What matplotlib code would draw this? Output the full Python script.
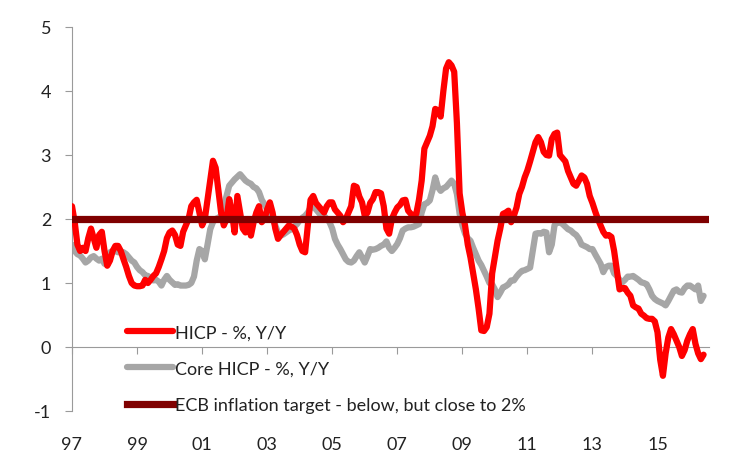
import matplotlib
matplotlib.use("Agg")
import matplotlib.pyplot as plt
import numpy as np

# ---------------- data (monthly, Jan 1997 - Jun 2016) ----------------
hicp_1997 = [2.2, 1.95, 1.6, 1.5, 1.55, 1.5, 1.7, 1.85, 1.7, 1.55, 1.75, 1.8]
hicp_1998 = [1.5, 1.27, 1.35, 1.5, 1.58, 1.58, 1.5, 1.37, 1.25, 1.11, 1.0, 0.96]
hicp_1999 = [0.95, 0.95, 0.96, 1.05, 1.0, 1.05, 1.11, 1.15, 1.25, 1.37, 1.5, 1.7]
hicp_2000 = [1.79, 1.82, 1.75, 1.6, 1.58, 1.8, 1.9, 2.0, 2.2, 2.26, 2.3, 2.1]
hicp_2001 = [1.9, 2.0, 2.3, 2.6, 2.91, 2.8, 2.45, 2.1, 1.9, 2.0, 2.31, 2.1]
hicp_2002 = [1.79, 2.36, 2.1, 1.85, 1.79, 2.0, 1.74, 1.95, 2.1, 2.2, 1.95, 2.0]
hicp_2003 = [2.15, 2.26, 2.1, 1.85, 1.69, 1.75, 1.8, 1.85, 1.9, 1.88, 1.85, 1.75]
hicp_2004 = [1.6, 1.5, 1.48, 1.9, 2.3, 2.36, 2.25, 2.2, 2.15, 2.1, 2.2, 2.26]
hicp_2005 = [2.26, 2.15, 2.1, 2.05, 1.95, 2.0, 2.1, 2.2, 2.52, 2.5, 2.35, 2.26]
hicp_2006 = [2.05, 2.1, 2.25, 2.31, 2.42, 2.42, 2.4, 2.2, 1.85, 1.77, 2.0, 2.1]
hicp_2007 = [2.18, 2.22, 2.29, 2.3, 2.13, 2.08, 2.05, 2.08, 2.3, 2.6, 3.1, 3.2]
hicp_2008 = [3.3, 3.45, 3.72, 3.7, 3.6, 4.0, 4.35, 4.45, 4.4, 4.3, 3.5, 2.4]
hicp_2009 = [2.1, 1.9, 1.6, 1.4, 1.15, 0.9, 0.6, 0.26, 0.25, 0.31, 0.52, 1.15]
hicp_2010 = [1.4, 1.66, 1.85, 2.08, 2.1, 2.13, 1.95, 2.05, 2.18, 2.39, 2.5, 2.65]
hicp_2011 = [2.76, 2.9, 3.05, 3.2, 3.28, 3.2, 3.05, 3.0, 2.99, 3.25, 3.33, 3.35]
hicp_2012 = [3.0, 2.95, 2.9, 2.75, 2.65, 2.55, 2.52, 2.6, 2.68, 2.65, 2.55, 2.36]
hicp_2013 = [2.25, 2.12, 2.0, 1.9, 1.8, 1.74, 1.75, 1.72, 1.5, 1.2, 0.9, 0.92]
hicp_2014 = [0.92, 0.85, 0.8, 0.65, 0.62, 0.6, 0.52, 0.49, 0.45, 0.44, 0.44, 0.4]
hicp_2015 = [0.23, -0.2, -0.45, -0.1, 0.15, 0.28, 0.2, 0.1, 0.0, -0.14, -0.05, 0.1]
hicp_2016 = [0.2, 0.28, 0.05, -0.1, -0.19, -0.12]

core_1997 = [1.6, 1.5, 1.45, 1.43, 1.38, 1.32, 1.35, 1.4, 1.42, 1.38, 1.35, 1.38]
core_1998 = [1.3, 1.35, 1.48, 1.5, 1.5, 1.48, 1.48, 1.48, 1.45, 1.4, 1.35, 1.32]
core_1999 = [1.25, 1.2, 1.17, 1.12, 1.11, 1.08, 1.04, 1.05, 1.02, 0.96, 1.05, 1.11]
core_2000 = [1.05, 1.01, 0.97, 0.98, 0.96, 0.96, 0.96, 0.97, 1.0, 1.1, 1.35, 1.53]
core_2001 = [1.5, 1.37, 1.6, 1.84, 1.95, 2.0, 2.02, 2.05, 2.2, 2.36, 2.52, 2.57]
core_2002 = [2.62, 2.66, 2.7, 2.65, 2.6, 2.57, 2.55, 2.5, 2.48, 2.42, 2.3, 2.23]
core_2003 = [2.15, 2.05, 2.0, 1.9, 1.79, 1.74, 1.76, 1.79, 1.82, 1.84, 1.88, 1.92]
core_2004 = [1.98, 2.02, 2.05, 2.1, 2.18, 2.2, 2.15, 2.1, 2.05, 2.05, 2.0, 1.95]
core_2005 = [1.85, 1.69, 1.6, 1.53, 1.45, 1.37, 1.33, 1.32, 1.35, 1.42, 1.48, 1.4]
core_2006 = [1.32, 1.42, 1.53, 1.52, 1.53, 1.55, 1.58, 1.6, 1.65, 1.55, 1.5, 1.55]
core_2007 = [1.61, 1.7, 1.82, 1.85, 1.87, 1.87, 1.88, 1.9, 1.92, 2.1, 2.23, 2.25]
core_2008 = [2.29, 2.45, 2.65, 2.5, 2.44, 2.48, 2.5, 2.55, 2.6, 2.55, 2.39, 2.08]
core_2009 = [1.9, 1.77, 1.7, 1.66, 1.55, 1.45, 1.35, 1.28, 1.19, 1.1, 1.0, 0.98]
core_2010 = [0.9, 0.78, 0.85, 0.93, 0.95, 0.98, 1.04, 1.04, 1.1, 1.15, 1.19, 1.2]
core_2011 = [1.22, 1.24, 1.5, 1.77, 1.78, 1.77, 1.8, 1.79, 1.48, 1.6, 1.9, 1.95]
core_2012 = [1.95, 1.92, 1.88, 1.84, 1.82, 1.78, 1.75, 1.69, 1.6, 1.58, 1.56, 1.53]
core_2013 = [1.53, 1.45, 1.375, 1.3, 1.17, 1.25, 1.27, 1.27, 1.15, 1.11, 1.05, 1.01]
core_2014 = [1.05, 1.1, 1.1, 1.11, 1.08, 1.05, 1.01, 1.0, 0.98, 0.9, 0.8, 0.75]
core_2015 = [0.72, 0.7, 0.68, 0.65, 0.72, 0.8, 0.88, 0.9, 0.86, 0.85, 0.92, 0.96]
core_2016 = [0.96, 0.93, 0.9, 0.96, 0.72, 0.8]

ecb_target = 2.0

x_tick_labels = ["97", "99", "01", "03", "05", "07", "09", "11", "13", "15"]
y_ticks = [-1, 0, 1, 2, 3, 4, 5]

labels = ["HICP - %, Y/Y", "Core HICP - %, Y/Y",
          "ECB inflation target - below, but close to 2%"]

hicp = np.concatenate([hicp_1997, hicp_1998, hicp_1999, hicp_2000, hicp_2001,
                       hicp_2002, hicp_2003, hicp_2004, hicp_2005, hicp_2006,
                       hicp_2007, hicp_2008, hicp_2009, hicp_2010, hicp_2011,
                       hicp_2012, hicp_2013, hicp_2014, hicp_2015, hicp_2016])
core = np.concatenate([core_1997, core_1998, core_1999, core_2000, core_2001,
                       core_2002, core_2003, core_2004, core_2005, core_2006,
                       core_2007, core_2008, core_2009, core_2010, core_2011,
                       core_2012, core_2013, core_2014, core_2015, core_2016])
months = np.arange(len(hicp))

# ---------------- figure ----------------
plt.rcParams['font.family'] = ['Lato', 'DejaVu Sans']
text_color = '#222222'
axis_color = '#9a9a9a'

fig = plt.figure(figsize=(7.52, 4.64), dpi=100)
ax = fig.add_axes([72/752, 1 - 412/464, 637/752, 384/464])

ax.plot(months, core, color='#a6a6a6', lw=4.5, solid_joinstyle='round',
        solid_capstyle='round', label=labels[1], zorder=2)
ax.plot(months, hicp, color='#ff0000', lw=4.5, solid_joinstyle='round',
        solid_capstyle='round', label=labels[0], zorder=3)
ax.axhline(ecb_target, color='#7f0000', lw=5.2, label=labels[2], zorder=4)

ax.set_xlim(0, 235)
ax.set_ylim(-1, 5)

for s in ['top', 'right']:
    ax.spines[s].set_visible(False)
ax.spines['left'].set_color(axis_color)
ax.spines['bottom'].set_color(axis_color)
ax.spines['bottom'].set_position(('data', 0))

ax.set_yticks(y_ticks)
ax.set_yticklabels([str(v) for v in y_ticks])
ax.tick_params(axis='y', direction='out', length=5, color=axis_color,
               labelsize=13, labelcolor=text_color, pad=10)

xt = np.arange(0, len(months), 24)
ax.set_xticks(xt)
ax.tick_params(axis='x', direction='out', length=5, color=axis_color,
               labelbottom=False)

sec = ax.secondary_xaxis('bottom')
sec.set_xticks(xt)
sec.set_xticklabels(x_tick_labels)
sec.tick_params(length=0, labelsize=13, labelcolor=text_color, pad=18)
sec.spines['bottom'].set_visible(False)

handles, labs = ax.get_legend_handles_labels()
order = [labs.index(l) for l in labels]
leg = ax.legend([handles[i] for i in order], [labs[i] for i in order],
                loc='upper left', bbox_to_anchor=(0.086, 0.226),
                frameon=False, fontsize=13, handlelength=2.55,
                handletextpad=0.12, borderpad=0, borderaxespad=0,
                labelspacing=1.13)
for t in leg.get_texts():
    t.set_color(text_color)

fig.savefig("out.png", dpi=100)
